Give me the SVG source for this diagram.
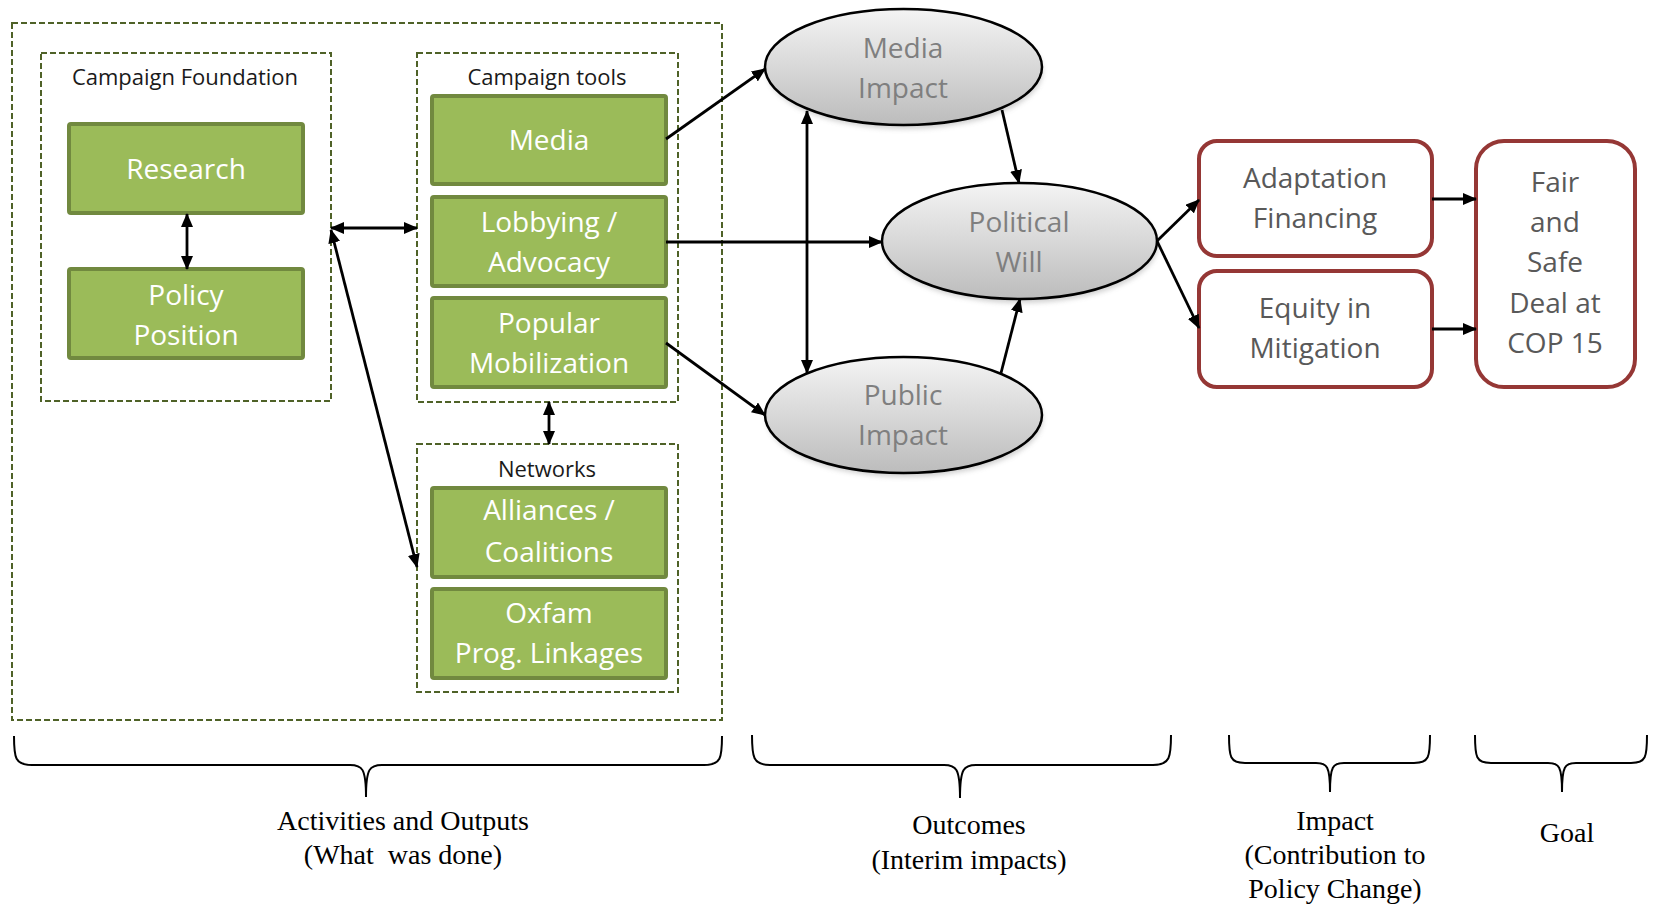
<svg xmlns="http://www.w3.org/2000/svg" width="1655" height="905" viewBox="0 0 1655 905">
<style>
.dash{fill:none;stroke:#4F6228;stroke-width:2;stroke-dasharray:6 3}
.title{font-family:"Open Sans","Liberation Sans",sans-serif;font-size:22px;fill:#1a1a1a;text-anchor:middle}
.gbox{fill:#9BBB59;stroke:#71893F;stroke-width:4}
.gtxt{font-family:"Open Sans","Liberation Sans",sans-serif;font-size:28px;fill:#ffffff;text-anchor:middle}
.ell{fill:url(#eg);stroke:#000;stroke-width:2.5}
.etxt{font-family:"Open Sans","Liberation Sans",sans-serif;font-size:28px;fill:#7F7F7F;text-anchor:middle}
.rbox{fill:#fff;stroke:#953735;stroke-width:4}
.rtxt{font-family:"Open Sans","Liberation Sans",sans-serif;font-size:28px;fill:#595959;text-anchor:middle}
.con{fill:none;stroke:#000;stroke-width:2.8}
.one{marker-end:url(#ah)}
.two{marker-start:url(#ah);marker-end:url(#ah)}
.brace{fill:none;stroke:#000;stroke-width:2}
.btxt{font-family:"Liberation Serif","Times New Roman",serif;font-size:28px;fill:#000;text-anchor:middle}
</style>
<defs>
<linearGradient id="eg" x1="0" y1="0" x2="0" y2="1">
<stop offset="0" stop-color="#f4f4f4"/>
<stop offset="1" stop-color="#bcbcbc"/>
</linearGradient>
<filter id="sh" x="-10%" y="-10%" width="120%" height="130%">
<feGaussianBlur stdDeviation="2.5"/>
</filter>
<marker id="ah" viewBox="0 0 14 12" refX="13" refY="6" markerWidth="14" markerHeight="12" markerUnits="userSpaceOnUse" orient="auto-start-reverse">
<path d="M0,0 L14,6 L0,12 Z" fill="#000"/>
</marker>
</defs>

<g id="activities-frame">
<rect class="dash" x="12" y="23" width="710" height="697"/>
</g>

<g id="campaign-foundation">
<rect class="dash" x="41" y="53" width="290" height="348"/>
<text class="title" x="185" y="85">Campaign Foundation</text>
</g>
<g id="research">
<rect class="gbox" x="69" y="124" width="234" height="89" rx="2"/>
<text class="gtxt" x="186" y="179">Research</text>
</g>
<g id="policy-position">
<rect class="gbox" x="69" y="269" width="234" height="89" rx="2"/>
<text class="gtxt" x="186" y="305">Policy</text>
<text class="gtxt" x="186" y="345">Position</text>
</g>

<g id="campaign-tools">
<rect class="dash" x="417" y="53" width="261" height="349"/>
<text class="title" x="547" y="85">Campaign tools</text>
</g>
<g id="media">
<rect class="gbox" x="432" y="96" width="234" height="88" rx="2"/>
<text class="gtxt" x="549" y="150">Media</text>
</g>
<g id="lobbying">
<rect class="gbox" x="432" y="197" width="234" height="89" rx="2"/>
<text class="gtxt" x="549" y="232">Lobbying /</text>
<text class="gtxt" x="549" y="272">Advocacy</text>
</g>
<g id="popular-mobilization">
<rect class="gbox" x="432" y="298" width="234" height="89" rx="2"/>
<text class="gtxt" x="549" y="333">Popular</text>
<text class="gtxt" x="549" y="373">Mobilization</text>
</g>

<g id="networks">
<rect class="dash" x="417" y="444" width="261" height="248"/>
<text class="title" x="547" y="477">Networks</text>
</g>
<g id="alliances">
<rect class="gbox" x="432" y="488" width="234" height="89" rx="2"/>
<text class="gtxt" x="549" y="520">Alliances /</text>
<text class="gtxt" x="549" y="562">Coalitions</text>
</g>
<g id="oxfam">
<rect class="gbox" x="432" y="589" width="234" height="89" rx="2"/>
<text class="gtxt" x="549" y="623">Oxfam</text>
<text class="gtxt" x="549" y="663">Prog. Linkages</text>
</g>

<g id="media-impact">
<ellipse cx="905" cy="71" rx="138" ry="58" fill="#999" opacity="0.45" filter="url(#sh)"/>
<ellipse class="ell" cx="903.5" cy="67" rx="138.5" ry="58"/>
<text class="etxt" x="903" y="58">Media</text>
<text class="etxt" x="903" y="98">Impact</text>
</g>
<g id="political-will">
<ellipse cx="1021" cy="245" rx="137" ry="58" fill="#999" opacity="0.45" filter="url(#sh)"/>
<ellipse class="ell" cx="1019.5" cy="241" rx="137.5" ry="58"/>
<text class="etxt" x="1019" y="232">Political</text>
<text class="etxt" x="1019" y="272">Will</text>
</g>
<g id="public-impact">
<ellipse cx="905" cy="419" rx="138" ry="58" fill="#999" opacity="0.45" filter="url(#sh)"/>
<ellipse class="ell" cx="903.5" cy="415" rx="138.5" ry="58"/>
<text class="etxt" x="903" y="405">Public</text>
<text class="etxt" x="903" y="445">Impact</text>
</g>

<g id="adaptation-financing">
<rect class="rbox" x="1199" y="141" width="233" height="115" rx="18"/>
<text class="rtxt" x="1315" y="188">Adaptation</text>
<text class="rtxt" x="1315" y="228">Financing</text>
</g>
<g id="equity-mitigation">
<rect class="rbox" x="1199" y="271" width="233" height="116" rx="18"/>
<text class="rtxt" x="1315" y="318">Equity in</text>
<text class="rtxt" x="1315" y="358">Mitigation</text>
</g>
<g id="goal">
<rect class="rbox" x="1476" y="141" width="159" height="246" rx="28"/>
<text class="rtxt" x="1555" y="192">Fair</text>
<text class="rtxt" x="1555" y="232">and</text>
<text class="rtxt" x="1555" y="272">Safe</text>
<text class="rtxt" x="1555" y="313">Deal at</text>
<text class="rtxt" x="1555" y="353">COP 15</text>
</g>

<g id="connectors">
<line class="con two" x1="187" y1="214" x2="187" y2="269"/>
<line class="con two" x1="331" y1="228" x2="417" y2="228"/>
<line class="con two" x1="331" y1="230" x2="417" y2="567"/>
<line class="con two" x1="549" y1="402" x2="549" y2="444"/>
<line class="con one" x1="666" y1="139" x2="765" y2="69"/>
<line class="con one" x1="666" y1="242" x2="882" y2="242"/>
<line class="con one" x1="666" y1="343" x2="765" y2="415"/>
<line class="con two" x1="807" y1="111" x2="807" y2="373"/>
<line class="con one" x1="1002" y1="110" x2="1019" y2="183"/>
<line class="con one" x1="1001" y1="373" x2="1020" y2="299"/>
<line class="con one" x1="1157" y1="241" x2="1199" y2="200"/>
<line class="con one" x1="1157" y1="241" x2="1199" y2="328"/>
<line class="con one" x1="1432" y1="199" x2="1476" y2="199"/>
<line class="con one" x1="1432" y1="329" x2="1476" y2="329"/>
</g>

<g id="braces">
<path class="brace" d="M14,736 C14,758 15,765 32,765 L350,765 C362,765 366,768 366,797 M722,736 C722,758 721,765 704,765 L382,765 C370,765 366,768 366,797"/>
<path class="brace" d="M752,735 C752,757 753,765 770,765 L944,765 C956,765 960,768 960,798 M1171,735 C1171,757 1170,765 1153,765 L976,765 C964,765 960,768 960,798"/>
<path class="brace" d="M1229,735 C1229,757 1230,763 1245,763 L1316,763 C1327,763 1330,766 1330,792 M1430,735 C1430,757 1429,763 1414,763 L1344,763 C1333,763 1330,766 1330,792"/>
<path class="brace" d="M1475,735 C1475,757 1476,763 1491,763 L1548,763 C1559,763 1562,766 1562,792 M1647,735 C1647,757 1646,763 1631,763 L1576,763 C1565,763 1562,766 1562,792"/>
</g>

<g id="labels">
<text class="btxt" x="403" y="830">Activities and Outputs</text>
<text class="btxt" x="403" y="864" xml:space="preserve">(What  was done)</text>
<text class="btxt" x="969" y="834">Outcomes</text>
<text class="btxt" x="969" y="869">(Interim impacts)</text>
<text class="btxt" x="1335" y="830">Impact</text>
<text class="btxt" x="1335" y="864">(Contribution to</text>
<text class="btxt" x="1335" y="898">Policy Change)</text>
<text class="btxt" x="1567" y="842">Goal</text>
</g>
</svg>
